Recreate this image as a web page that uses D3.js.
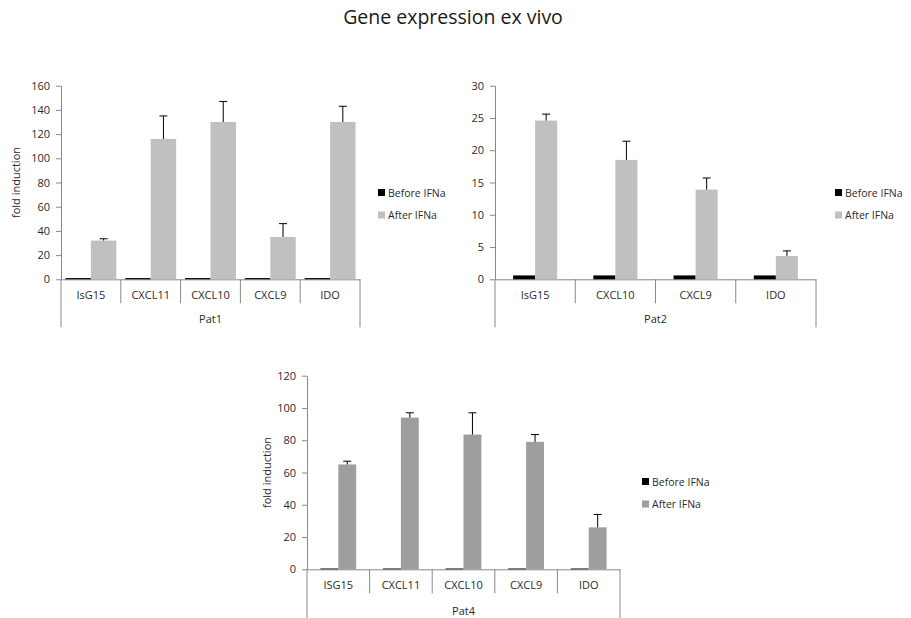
<!DOCTYPE html>
<html>
<head>
<meta charset="utf-8">
<script src="https://cdn.jsdelivr.net/npm/d3@7"></script>
<style>
  body { margin: 0; background: #fff; }
  svg text { font-family: "Open Sans", "DejaVu Sans", sans-serif; fill: #2a2a2a; }
</style>
</head>
<body>
<svg id="chart" width="911" height="618"></svg>
<script>
// data
var chartTitle = "Gene expression ex vivo";
var seriesNames = ["Before IFNa", "After IFNa"];

var pat1Genes = ["IsG15", "CXCL11", "CXCL10", "CXCL9", "IDO"];
var pat1Before = [1, 1, 1, 1, 1];
var pat1After = [32, 116, 130, 35, 130];
var pat1Err = [1.5, 19, 17, 11, 13];
var pat1Ticks = [0, 20, 40, 60, 80, 100, 120, 140, 160];

var pat2Genes = ["IsG15", "CXCL10", "CXCL9", "IDO"];
var pat2Before = [0.6, 0.6, 0.6, 0.6];
var pat2After = [24.6, 18.5, 13.9, 3.6];
var pat2Err = [1.0, 2.9, 1.8, 0.8];
var pat2Ticks = [0, 5, 10, 15, 20, 25, 30];

var pat4Genes = ["ISG15", "CXCL11", "CXCL10", "CXCL9", "IDO"];
var pat4Before = [0.5, 0.5, 0.5, 0.5, 0.5];
var pat4After = [65, 94, 83.5, 79, 26];
var pat4Err = [2, 3, 13.5, 4.5, 8];
var pat4Ticks = [0, 20, 40, 60, 80, 100, 120];

var svg = d3.select("#chart");

svg.append("text")
  .attr("x", 453).attr("y", 24)
  .attr("text-anchor", "middle")
  .style("font-size", "19.5px")
  .style("fill", "#1a1a1a")
  .text(chartTitle);

function panel(o) {
  var g = svg.append("g");
  var ticks = o.ticks;

  var x = d3.scaleBand().domain(o.genes).range([o.left, o.right]).padding(0);
  var y = d3.scaleLinear().domain([0, ticks[ticks.length - 1]]).range([o.bottom, o.top]);

  // bar slots inside each category (Excel-like gap width)
  var bw = x.bandwidth();
  var barW = bw / (2 + o.gap);
  var sx = d3.scaleBand().domain(seriesNames).range([barW * o.gap / 2, barW * o.gap / 2 + barW * 2]);
  var colors = { "Before IFNa": "#000", "After IFNa": o.after };

  var rows = o.genes.map(function(gn, i){
    return { gene: gn, before: o.before[i], after: o.afterVals[i], err: o.err[i] };
  });

  // y axis
  var ya = g.append("g")
    .attr("transform", "translate(" + o.left + ",0)")
    .call(d3.axisLeft(y).tickValues(ticks).tickSize(5).tickSizeOuter(0).tickPadding(6));
  ya.select(".domain").attr("stroke", "#888");
  ya.selectAll(".tick line").attr("stroke", "#888");
  ya.selectAll(".tick text").style("font-size", "11px").style("fill", "#2a2a2a");

  // x axis with category labels
  var xa = g.append("g")
    .attr("transform", "translate(0," + o.bottom + ")")
    .call(d3.axisBottom(x).tickSize(0).tickSizeOuter(0).tickPadding(o.labelPad));
  xa.select(".domain").attr("stroke", "#888");
  xa.selectAll(".tick text").style("font-size", "11px").style("fill", "#2a2a2a");

  // category separators
  var edges = o.genes.map(function(gn){ return x(gn); }).concat([o.right]);
  g.selectAll("line.sep").data(edges).enter().append("line")
    .attr("class", "sep")
    .attr("x1", function(d){ return d; }).attr("x2", function(d){ return d; })
    .attr("y1", o.bottom)
    .attr("y2", function(d, i){ return (i === 0 || i === edges.length - 1) ? o.bottom + o.outerLen : o.bottom + o.innerLen; })
    .attr("stroke", "#888");

  g.append("text")
    .attr("x", (o.left + o.right) / 2).attr("y", o.bottom + o.groupY)
    .attr("text-anchor", "middle")
    .style("font-size", "11px")
    .text(o.name);

  // bars
  var cat = g.selectAll("g.cat").data(rows).enter().append("g")
    .attr("transform", function(d){ return "translate(" + x(d.gene) + ",0)"; });

  cat.append("rect")
    .attr("x", sx("Before IFNa")).attr("width", sx.bandwidth())
    .attr("y", function(d){ return y(d.before); })
    .attr("height", function(d){ return o.bottom - y(d.before); })
    .attr("fill", colors["Before IFNa"]);

  cat.append("rect")
    .attr("x", sx("After IFNa")).attr("width", sx.bandwidth())
    .attr("y", function(d){ return y(d.after); })
    .attr("height", function(d){ return o.bottom - y(d.after); })
    .attr("fill", colors["After IFNa"]);

  // error bars (upper only)
  var cx = sx("After IFNa") + sx.bandwidth() / 2;
  cat.append("line")
    .attr("x1", cx).attr("x2", cx)
    .attr("y1", function(d){ return y(d.after); })
    .attr("y2", function(d){ return y(d.after + d.err); })
    .attr("stroke", "#000");
  cat.append("line")
    .attr("x1", cx - 4).attr("x2", cx + 4)
    .attr("y1", function(d){ return y(d.after + d.err); })
    .attr("y2", function(d){ return y(d.after + d.err); })
    .attr("stroke", "#000");

  // y label
  if (o.yLabel) {
    g.append("text")
      .attr("transform", "translate(" + o.yLabelX + "," + (o.top + o.bottom) / 2 + ") rotate(-90)")
      .attr("text-anchor", "middle")
      .attr("dy", "0.35em")
      .style("font-size", "11px")
      .text(o.yLabel);
  }

  // legend
  var lg = g.selectAll("g.leg").data(seriesNames).enter().append("g")
    .attr("transform", function(d, i){ return "translate(" + o.legX + "," + (o.legY + i * 22.5) + ")"; });
  lg.append("rect").attr("x", 0).attr("y", -4).attr("width", 7).attr("height", 7)
    .attr("fill", function(d){ return colors[d]; });
  lg.append("text").attr("x", 10).attr("dy", "0.35em")
    .style("font-size", "10.5px")
    .text(function(d){ return d; });
}

panel({ name: "Pat1", genes: pat1Genes, before: pat1Before, afterVals: pat1After, err: pat1Err, ticks: pat1Ticks,
  left: 61, right: 360, top: 85.7, bottom: 279.3, gap: 0.35, after: "#c0c0c0",
  labelPad: 12, innerLen: 24, outerLen: 48, groupY: 44,
  yLabel: "fold induction", yLabelX: 16, legX: 378, legY: 193 });

panel({ name: "Pat2", genes: pat2Genes, before: pat2Before, afterVals: pat2After, err: pat2Err, ticks: pat2Ticks,
  left: 495, right: 816, top: 85.7, bottom: 279.3, gap: 1.64, after: "#c0c0c0",
  labelPad: 12, innerLen: 24, outerLen: 48, groupY: 44,
  yLabel: null, legX: 835, legY: 193 });

panel({ name: "Pat4", genes: pat4Genes, before: pat4Before, afterVals: pat4After, err: pat4Err, ticks: pat4Ticks,
  left: 307, right: 620, top: 375.7, bottom: 569.3, gap: 1.5, after: "#9e9e9e",
  labelPad: 12, innerLen: 24, outerLen: 50, groupY: 46,
  yLabel: "fold induction", yLabelX: 267, legX: 642, legY: 482 });
</script>
</body>
</html>
